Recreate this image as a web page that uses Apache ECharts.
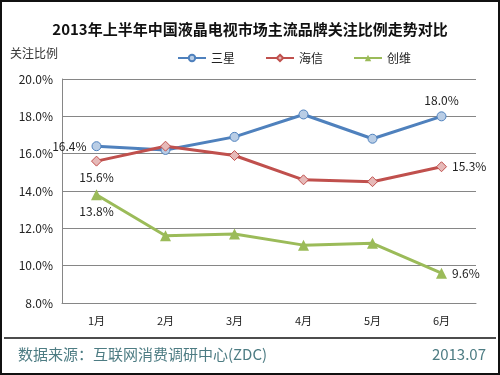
<!DOCTYPE html>
<html>
<head>
<meta charset="utf-8">
<script src="https://cdn.jsdelivr.net/npm/echarts@6/dist/echarts.min.js"></script>
<style>
  html, body { margin: 0; padding: 0; background: #fff; }
  #chart { width: 500px; height: 375px; }
</style>
</head>
<body>
<div id="chart"></div>
<script>
const months = ["1月", "2月", "3月", "4月", "5月", "6月"];
const samsung = [16.4, 16.2, 16.9, 18.1, 16.8, 18.0];
const hisense = [15.6, 16.4, 15.9, 14.6, 14.5, 15.3];
const skyworth = [13.8, 11.6, 11.7, 11.1, 11.2, 9.6];

const chart = echarts.init(document.getElementById("chart"));
const font = '"Noto Sans CJK SC", sans-serif';

// only first and last points carry a label
function labelled(values, firstPos, lastPos) {
  return values.map(function (v, i) {
    const item = { value: v };
    if (i === 0 || i === values.length - 1) {
      item.label = {
        show: true,
        position: i === 0 ? firstPos : lastPos,
        formatter: function (p) { return p.value.toFixed(1) + "%"; },
        color: "#222",
        fontSize: 12,
        fontFamily: font
      };
    }
    return item;
  });
}

const option = {
  animation: false,
  textStyle: { fontFamily: font },
  title: {
    text: "2013年上半年中国液晶电视市场主流品牌关注比例走势对比",
    left: "center",
    top: 17,
    textStyle: { fontSize: 15, fontWeight: "bold", color: "#111", fontFamily: font }
  },
  legend: {
    top: 47,
    left: 172,
    itemGap: 30,
    itemWidth: 28,
    itemHeight: 8,
    textStyle: { fontSize: 12, color: "#222" },
    data: ["三星", "海信", "创维"]
  },
  grid: { left: 62, right: 24, top: 79, bottom: 72 },
  xAxis: {
    type: "category",
    data: months,
    axisLine: { lineStyle: { color: "#868686" } },
    axisTick: { inside: true, length: 4, lineStyle: { color: "#868686" } },
    axisLabel: { color: "#222", fontSize: 11, margin: 12 }
  },
  yAxis: {
    type: "value",
    name: "关注比例",
    nameLocation: "end",
    nameGap: 20,
    nameTextStyle: { color: "#333", fontSize: 12, align: "right", padding: [0, 4, 0, 0] },
    min: 8,
    max: 20,
    interval: 2,
    axisLine: { show: true, lineStyle: { color: "#868686" } },
    axisLabel: { color: "#222", fontSize: 12, margin: 9, formatter: function (v) { return v.toFixed(1) + "%"; } },
    splitLine: { lineStyle: { color: "#868686" } }
  },
  series: [
    {
      name: "三星",
      type: "line",
      data: labelled(samsung, "left", "top"),
      symbol: "circle",
      symbolSize: 9,
      lineStyle: { color: "#4f81bd", width: 3 },
      itemStyle: { color: "#b9cde5", borderColor: "#4f81bd", borderWidth: 1 }
    },
    {
      name: "海信",
      type: "line",
      data: labelled(hisense, "bottom", "right"),
      symbol: "diamond",
      symbolSize: 10,
      lineStyle: { color: "#c0504d", width: 3 },
      itemStyle: { color: "#e6b9b8", borderColor: "#c0504d", borderWidth: 1 }
    },
    {
      name: "创维",
      type: "line",
      data: labelled(skyworth, "bottom", "right"),
      symbol: "triangle",
      symbolSize: 11,
      lineStyle: { color: "#9bbb59", width: 3 },
      itemStyle: { color: "#9bbb59" }
    }
  ],
  graphic: [
    {
      type: "rect",
      shape: { x: 1, y: 1, width: 498, height: 373 },
      style: { fill: "none", stroke: "#111", lineWidth: 2 }
    },
    {
      type: "line",
      shape: { x1: 4, y1: 338, x2: 496, y2: 338 },
      style: { stroke: "#111", lineWidth: 1.5 }
    },
    {
      type: "text",
      left: 18,
      top: 347,
      style: { text: "数据来源：互联网消费调研中心(ZDC)", fill: "#4d7c83", fontSize: 15, fontFamily: font }
    },
    {
      type: "text",
      right: 14,
      top: 347,
      style: { text: "2013.07", fill: "#4d7c83", fontSize: 15, fontFamily: font }
    }
  ]
};

chart.setOption(option);
</script>
</body>
</html>
